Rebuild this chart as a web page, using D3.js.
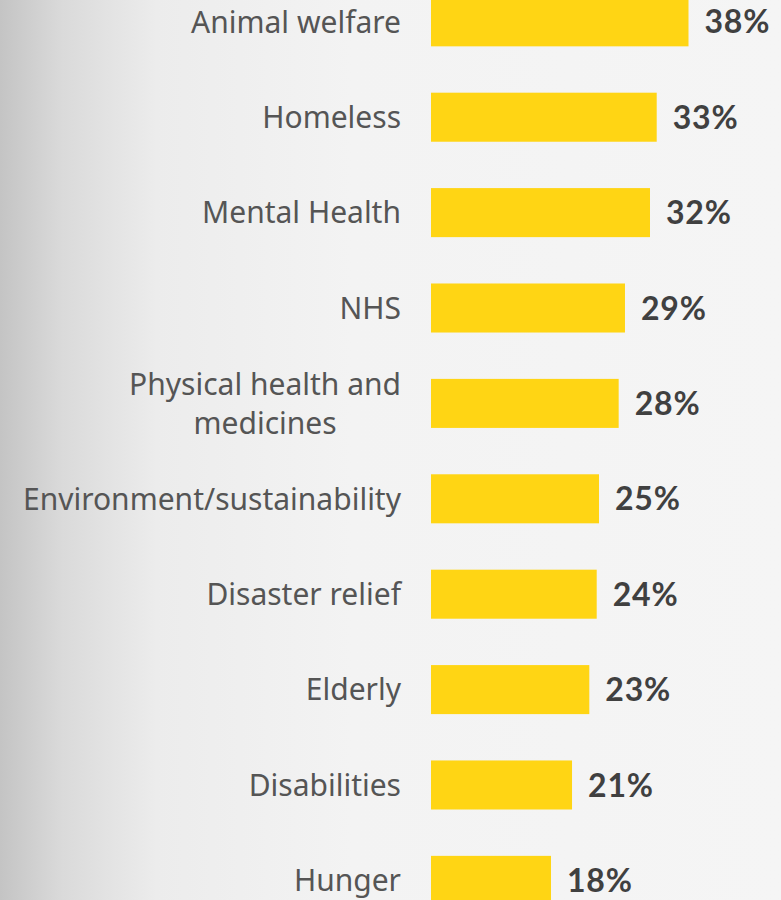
<!DOCTYPE html>
<html><head><meta charset="utf-8">
<script src="https://cdn.jsdelivr.net/npm/d3@7"></script>
<style>html,body{margin:0;padding:0;overflow:hidden;}</style>
</head><body>
<svg id="chart" width="781" height="900"></svg>
<script>
const categories = ["Animal welfare","Homeless","Mental Health","NHS","Physical health and medicines","Environment/sustainability","Disaster relief","Elderly","Disabilities","Hunger"];
const labelLines = [["Animal welfare"],["Homeless"],["Mental Health"],["NHS"],["Physical health and","medicines"],["Environment/sustainability"],["Disaster relief"],["Elderly"],["Disabilities"],["Hunger"]];
const values = [37.98,33.29,32.3,28.61,27.68,24.78,24.44,23.35,20.8,17.7];
const valueLabels = ["38%","33%","32%","29%","28%","25%","24%","23%","21%","18%"];

const W = 781, H = 900;
const svg = d3.select("#chart");
const defs = svg.append("defs");
const g = defs.append("linearGradient").attr("id","bg").attr("x1","0").attr("x2","1").attr("y1","0").attr("y2","0");
g.append("stop").attr("offset","0").attr("stop-color","#c4c4c4");
g.append("stop").attr("offset","0.08").attr("stop-color","#dadada");
g.append("stop").attr("offset","0.2").attr("stop-color","#ececec");
g.append("stop").attr("offset","0.45").attr("stop-color","#f3f3f3");
g.append("stop").attr("offset","1").attr("stop-color","#f5f5f5");
svg.append("rect").attr("width",W).attr("height",H).attr("fill","url(#bg)");

const x = d3.scaleLinear().domain([0,10]).range([431,498.8]);
const y = d3.scaleBand().domain(categories).range([-26.55,928.75]).paddingInner(0.486).paddingOuter(0.25);

const rows = svg.append("g").selectAll("g").data(categories).join("g");
rows.append("rect")
  .attr("x", x(0))
  .attr("y", d => y(d))
  .attr("width", (d,i) => x(values[i]) - x(0))
  .attr("height", y.bandwidth())
  .attr("fill", "#ffd514");

rows.append("text")
  .attr("x", (d,i) => x(values[i]) + 16)
  .attr("y", d => y(d) + y.bandwidth()/2)
  .attr("dy","0.36em")
  .attr("font-family","Lato, 'Open Sans', sans-serif")
  .attr("font-weight","700")
  .attr("font-size","32px")
  .attr("letter-spacing","0.8px")
  .attr("fill","#404040")
  .text((d,i) => valueLabels[i]);

const labelRight = 401;
rows.each(function(d,i){
  const lines = labelLines[i];
  const t = d3.select(this).append("text")
    .attr("font-family","'Noto Sans', sans-serif")
    .attr("font-size","30px")
    .attr("fill","#555555");
  const cy = y(d) + y.bandwidth()/2;
  const lh = 39;
  if (lines.length === 1) {
    t.attr("text-anchor","end").attr("x", labelRight).attr("y", cy).attr("dy","0.36em").text(lines[0]);
  } else {
    t.attr("text-anchor","middle");
    lines.forEach((ln,k) => {
      t.append("tspan").attr("x", 0).attr("y", cy + (k - (lines.length-1)/2)*lh).attr("dy","0.36em").text(ln);
    });
    const maxW = d3.max(t.selectAll("tspan").nodes(), n => n.getComputedTextLength());
    t.selectAll("tspan").attr("x", labelRight - maxW/2);
  }
});
</script>
</body></html>
